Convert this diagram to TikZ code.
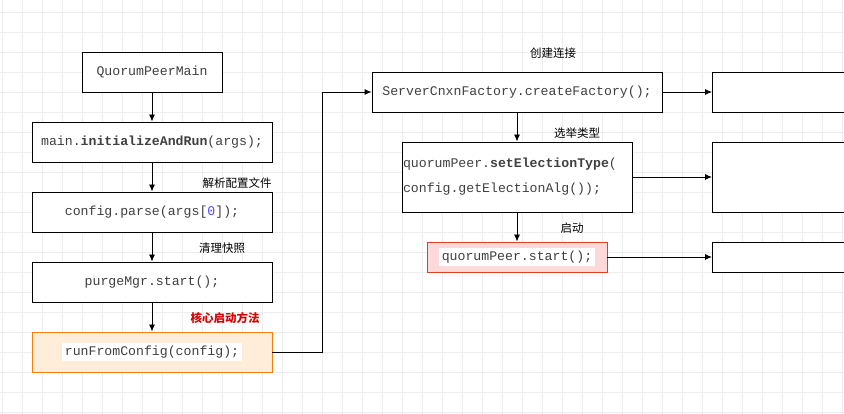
\documentclass[tikz,border=0pt]{standalone}
\usepackage{fontspec}
\setmonofont{Liberation Mono}
\newfontfamily\cjk{Noto Sans CJK SC}
\usetikzlibrary{arrows.meta}
\begin{document}
\begin{tikzpicture}[x=1pt,y=-1pt,
  box/.style={draw=black,fill=white,line width=0.9pt,inner sep=0pt},
  code/.style={font=\ttfamily\fontsize{13.2}{15}\selectfont,text=black!75},
  lab/.style={font=\cjk\fontsize{11.5}{13}\selectfont,anchor=center},
  arr/.style={-{Latex[length=7pt,width=6pt]},line width=0.9pt}]
\fill[white] (0,0) rectangle (844,414);
\useasboundingbox (0,0) rectangle (844,414);
\foreach \i in {0,20,...,840} \draw[black!7,line width=0.5pt] (\i+2,0) -- (\i+2,414);
\foreach \j in {0,20,...,400} \draw[black!7,line width=0.5pt] (0,\j+12) -- (844,\j+12);
% left column
\node[box,minimum width=140,minimum height=40,code] (qpm) at (152,72) {QuorumPeerMain};
\node[box,minimum width=240,minimum height=40,code] (init) at (152,142) {main.\textbf{initializeAndRun}(args);};
\node[box,minimum width=240,minimum height=40,code] (parse) at (152,212) {config.parse(args[\textcolor{blue!70}{0}]);};
\node[box,minimum width=240,minimum height=40,code] (purge) at (152,282) {purgeMgr.start();};
\node[box,draw=orange!80!brown,fill=orange!15,minimum width=240,minimum height=40,code] (run) at (152,352) {\colorbox{white}{runFromConfig(config);}};
\draw[arr] (qpm) -- (init);
\draw[arr] (init) -- (parse);
\draw[arr] (parse) -- (purge);
\draw[arr] (purge) -- (run);
\node[lab] at (237,183) {解析配置文件};
\node[lab] at (222,248) {清理快照};
\node[lab,text=red!85!black,font=\cjk\bfseries\fontsize{11.5}{13}\selectfont] at (225,318) {核心启动方法};
% right column
\node[box,minimum width=290,minimum height=40,code] (scf) at (517,92) {ServerCnxnFactory.createFactory();};
\node[box,minimum width=230,minimum height=70,code,align=left,text width=228] (set) at (517,177) {quorumPeer.\textbf{setElectionType}(\\[10pt]config.getElectionAlg());};
\node[box,draw=red!50!brown,fill=red!15,minimum width=180,minimum height=30,code] (start) at (517,257) {\colorbox{white}{quorumPeer.start();}};
\coordinate (c1) at (322,352);
\coordinate (c2) at (322,92);
\draw[arr] (run.east) -- (c1) -- (c2) -- (scf.west);
\draw[arr] (scf) -- (set);
\draw[arr] (set) -- (start);
\node[lab] at (553,53) {创建连接};
\node[lab] at (577,133) {选举类型};
\node[lab] at (572,228) {启动};
% far right boxes
\node[box,minimum width=150,minimum height=40,anchor=west] (r1) at (712,92) {};
\node[box,minimum width=150,minimum height=70,anchor=west] (r2) at (712,177) {};
\node[box,minimum width=150,minimum height=30,anchor=west] (r3) at (712,257) {};
\draw[arr] (scf) -- (r1);
\draw[arr] (set) -- (r2);
\draw[arr] (start) -- (r3);
\end{tikzpicture}
\end{document}
